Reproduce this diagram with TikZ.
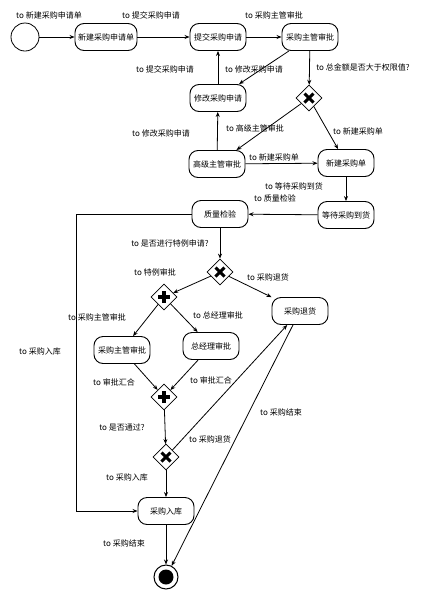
\documentclass[tikz,border=0pt]{standalone}
\usepackage{fontspec}
\setmainfont{Noto Sans CJK SC}
\usetikzlibrary{arrows.meta,shapes.geometric}
\tikzset{
  task/.style={draw, rounded corners=9pt, line width=0.9pt, minimum width=56pt, minimum height=27pt, inner xsep=3pt, font=\fontsize{8}{9}\selectfont},
  gate/.style={draw, diamond, aspect=1, minimum size=26pt, inner sep=0pt, line width=0.8pt, fill=white},
  flow/.style={-{Stealth[length=5pt,width=4pt]}, line width=0.8pt},
  lbl/.style={font=\fontsize{8}{9}\selectfont, inner sep=0pt}
}
\begin{document}
\begin{tikzpicture}[x=1pt,y=-1pt]
    \useasboundingbox (0,0) rectangle (425,595);

    % Draw the start and end events
    \node[draw, circle, line width=0.8pt, minimum size=28pt, inner sep=0pt] (init) at (25,37) {};
    \node[draw, circle, line width=1pt, minimum size=24pt, inner sep=0pt] (final) at (166,577) {};
    \fill (final.center) circle (7.5pt);

    % Draw the tasks
    \node[task] (n1) at (106,37) {新建采购申请单};
    \node[task] (n2) at (218,37) {提交采购申请};
    \node[task] (n3) at (310,37) {采购主管审批};
    \node[task] (n4) at (218,98) {修改采购申请};
    \node[task] (n5) at (217,164) {高级主管审批};
    \node[task] (n6) at (346,163) {新建采购单};
    \node[task] (n7) at (346,215) {等待采购到货};
    \node[task] (n8) at (220,214) {质量检验};
    \node[task] (n9) at (300,311) {采购退货};
    \node[task] (n10) at (122,350) {采购主管审批};
    \node[task] (n11) at (211,346) {总经理审批};
    \node[task] (n12) at (166,511) {采购入库};

    % Draw the gateways
    \node[gate] (x1) at (309,98) {};
    \node[gate] (x2) at (220,272) {};
    \node[gate] (x3) at (166,457) {};
    \node[gate] (a1) at (164,297) {};
    \node[gate] (a2) at (164,397) {};
    \foreach \g in {x1, x2, x3} {
        \draw[line width=3pt] (\g.center) +(-4.5pt,-4.5pt) -- +(4.5pt,4.5pt) +(-4.5pt,4.5pt) -- +(4.5pt,-4.5pt);
    }
    \foreach \g in {a1, a2} {
        \draw[line width=3.2pt] (\g.center) +(-6pt,0) -- +(6pt,0) +(0,-6pt) -- +(0,6pt);
    }

    % Draw the flows
    \foreach \a/\b in {init/n1, n1/n2, n2/n3, n3/x1, n3/n4, n4/n2, x1/n5, x1/n6, n5/n4, n5/n6,
                       n6/n7, n7/n8, n8/x2, x2/a1, x2/n9, a1/n10, a1/n11, n10/a2, n11/a2,
                       a2/x3, x3/n9, x3/n12, n12/final, n9/final} {
        \draw[flow] (\a) -- (\b);
    }
    \coordinate (lft) at (76,214);
    \draw[flow] (n8.west) -- (lft) |- (n12.west);

    % Draw the flow labels
    \foreach \x/\y/\label in {49/15/新建采购申请单, 151/15/提交采购申请, 274/15/采购主管审批,
                              363/67/总金额是否大于权限值?, 165/69/提交采购申请, 254/69/修改采购申请,
                              255/128/高级主管审批, 358/131/新建采购单, 161/133/修改采购申请,
                              274/157/新建采购单, 294/186/等待采购到货, 275/198/质量检验,
                              170/243/是否进行特例申请?, 155/272/特例审批, 268/277/采购退货,
                              97/317/采购主管审批, 218/315/总经理审批, 40/351/采购入库,
                              114/382/审批汇合, 211/380/审批汇合, 281/412/采购结束,
                              122/427/是否通过?, 210/439/采购退货, 127/477/采购入库,
                              124/543/采购结束} {
        \node[lbl] at (\x,\y) {to \label};
    }
\end{tikzpicture}
\end{document}
